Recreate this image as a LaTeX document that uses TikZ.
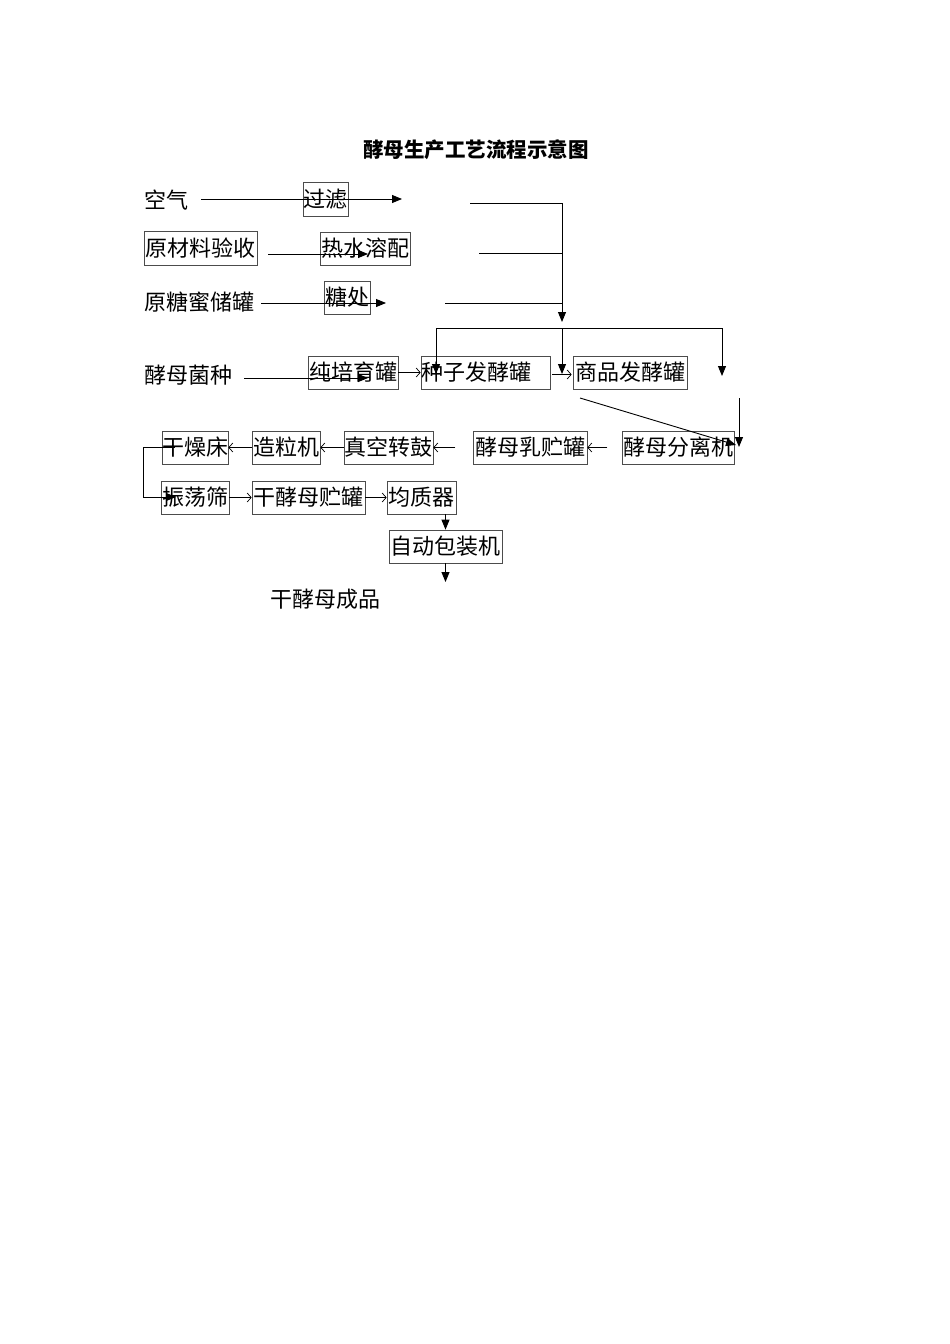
\documentclass[tikz,border=0pt]{standalone}
\usepackage{fontspec}
\newfontfamily\cjk{Noto Sans CJK SC}
\usetikzlibrary{arrows.meta,calc}
\begin{document}
\begin{tikzpicture}[x=1pt,y=-1pt,
  box/.style={draw=black!70,line width=0.7pt,inner sep=0pt,minimum height=33pt,font=\cjk\fontsize{22}{22}\selectfont},
  plain/.style={inner sep=0pt,font=\cjk\fontsize{22}{22}\selectfont},
  arr/.style={line width=0.9pt,-{Triangle[length=10pt,width=8pt]}},
  ln/.style={line width=0.9pt},
  tarr/.style={line width=0.7pt,-{Straight Barb[length=4pt,width=9pt]}}]
\useasboundingbox (0,0) rectangle (950,1344);
\fill[white] (0,0) rectangle (950,1344);
% title
\node[inner sep=0pt,font=\cjk\bfseries\fontsize{20.5}{20.5}\selectfont] (title) at (476,150) {酵母生产工艺流程示意图};
% row 1-3
\node[plain] (kq) at (166.5,200) {空气};
\node[box,minimum width=45pt,minimum height=34pt] (gl) at (325.5,199) {过滤};
\node[box,minimum width=113pt,minimum height=34pt] (ycl) at (200.5,248) {原材料验收};
\node[box,minimum width=90pt] (rsrp) at (365,248.5) {热水溶配};
\node[plain] (ytm) at (199.5,302) {原糖蜜储罐};
\node[box,minimum width=46pt] (tc) at (347,297.5) {糖处};
% row 4
\node[plain] (jmjz) at (188.5,375) {酵母菌种};
\node[box,minimum width=90pt] (cpy) at (353,372.5) {纯培育罐};
\node[box,minimum width=129pt,text width=128pt,align=left,inner xsep=0.5pt] (zz) at (485.5,372.5) {种子发酵罐};
\node[box,minimum width=114pt] (sp) at (630,372.5) {商品发酵罐};
% row 5
\node[box,minimum width=66pt] (gzc) at (195,447.5) {干燥床};
\node[box,minimum width=68pt] (zlj) at (286,447.5) {造粒机};
\node[box,minimum width=89pt] (zkzg) at (388.5,447.5) {真空转鼓};
\node[box,minimum width=114pt] (jmr) at (530,447.5) {酵母乳贮罐};
\node[box,minimum width=112pt] (fl) at (678,447.5) {酵母分离机};
% row 6
\node[box,minimum width=68pt] (zds) at (195,497.5) {振荡筛};
\node[box,minimum width=113pt] (gjm) at (308.5,497.5) {干酵母贮罐};
\node[box,minimum width=69pt] (jzq) at (421.5,497.5) {均质器};
\node[box,minimum width=113pt] (bzj) at (445.5,546.5) {自动包装机};
\node[plain] (cp) at (325,599) {干酵母成品};
% free ends
\coordinate (a1) at (201,199); \coordinate (a2) at (402,199);
\coordinate (b1) at (268,254); \coordinate (b2) at (368,254);
\coordinate (c1) at (261,303); \coordinate (c2) at (386,303);
\coordinate (d1) at (470,203); \coordinate (d2) at (562,203); \coordinate (d3) at (562,322);
\coordinate (e1) at (479,253); \coordinate (e2) at (562,253);
\coordinate (f1) at (445,303); \coordinate (f2) at (562,303);
\coordinate (h1) at (436,328); \coordinate (h2) at (562,328); \coordinate (h3) at (722,328);
\coordinate (j1) at (244,378); \coordinate (j2) at (368,378);
\coordinate (k1) at (739,398); \coordinate (k2) at (739,447);
\coordinate (m1) at (580,398); \coordinate (m2) at (736,445);
\coordinate (p1) at (175,447); \coordinate (p2) at (143,447); \coordinate (p3) at (143,497); \coordinate (p4) at (176,497);
\coordinate (q1) at (445.5,582);
% connectors
\draw[arr] (a1) -- (a2);
\draw[arr] (b1) -- (b2);
\draw[arr] (c1) -- (c2);
\draw[arr] (d1) -- (d2) -- (d3);
\draw[ln] (e1) -- (e2);
\draw[ln] (f1) -- (f2);
\draw[ln] (h1) -- (h3);
\draw[arr] (h1) -- ++(0,46);
\draw[arr] (h2) -- ++(0,46);
\draw[arr] (h3) -- ++(0,48);
\draw[arr] (j1) -- (j2);
\draw[arr] (k1) -- (k2);
\draw[arr] (m1) -- (m2);
\draw[arr] (p1) -- (p2) -- (p3) -- (p4);
\draw[arr] (jzq.south -| bzj) -- (bzj.north);
\draw[arr] (bzj.south) -- (q1);
% text-like arrows
\draw[tarr] (cpy.east) -- (zz.west);
\draw[tarr] ($(zz.east)+(2,2)$) -- ($(sp.west)+(-1,2)$);
\draw[tarr] (zlj.west) -- (gzc.east);
\draw[tarr] (zkzg.west) -- (zlj.east);
\draw[tarr] ($(zkzg.east)+(22,0)$) -- (zkzg.east);
\draw[tarr] ($(jmr.east)+(20,0)$) -- (jmr.east);
\draw[tarr] (zds.east) -- (gjm.west);
\draw[tarr] (gjm.east) -- (jzq.west);
\end{tikzpicture}
\end{document}
